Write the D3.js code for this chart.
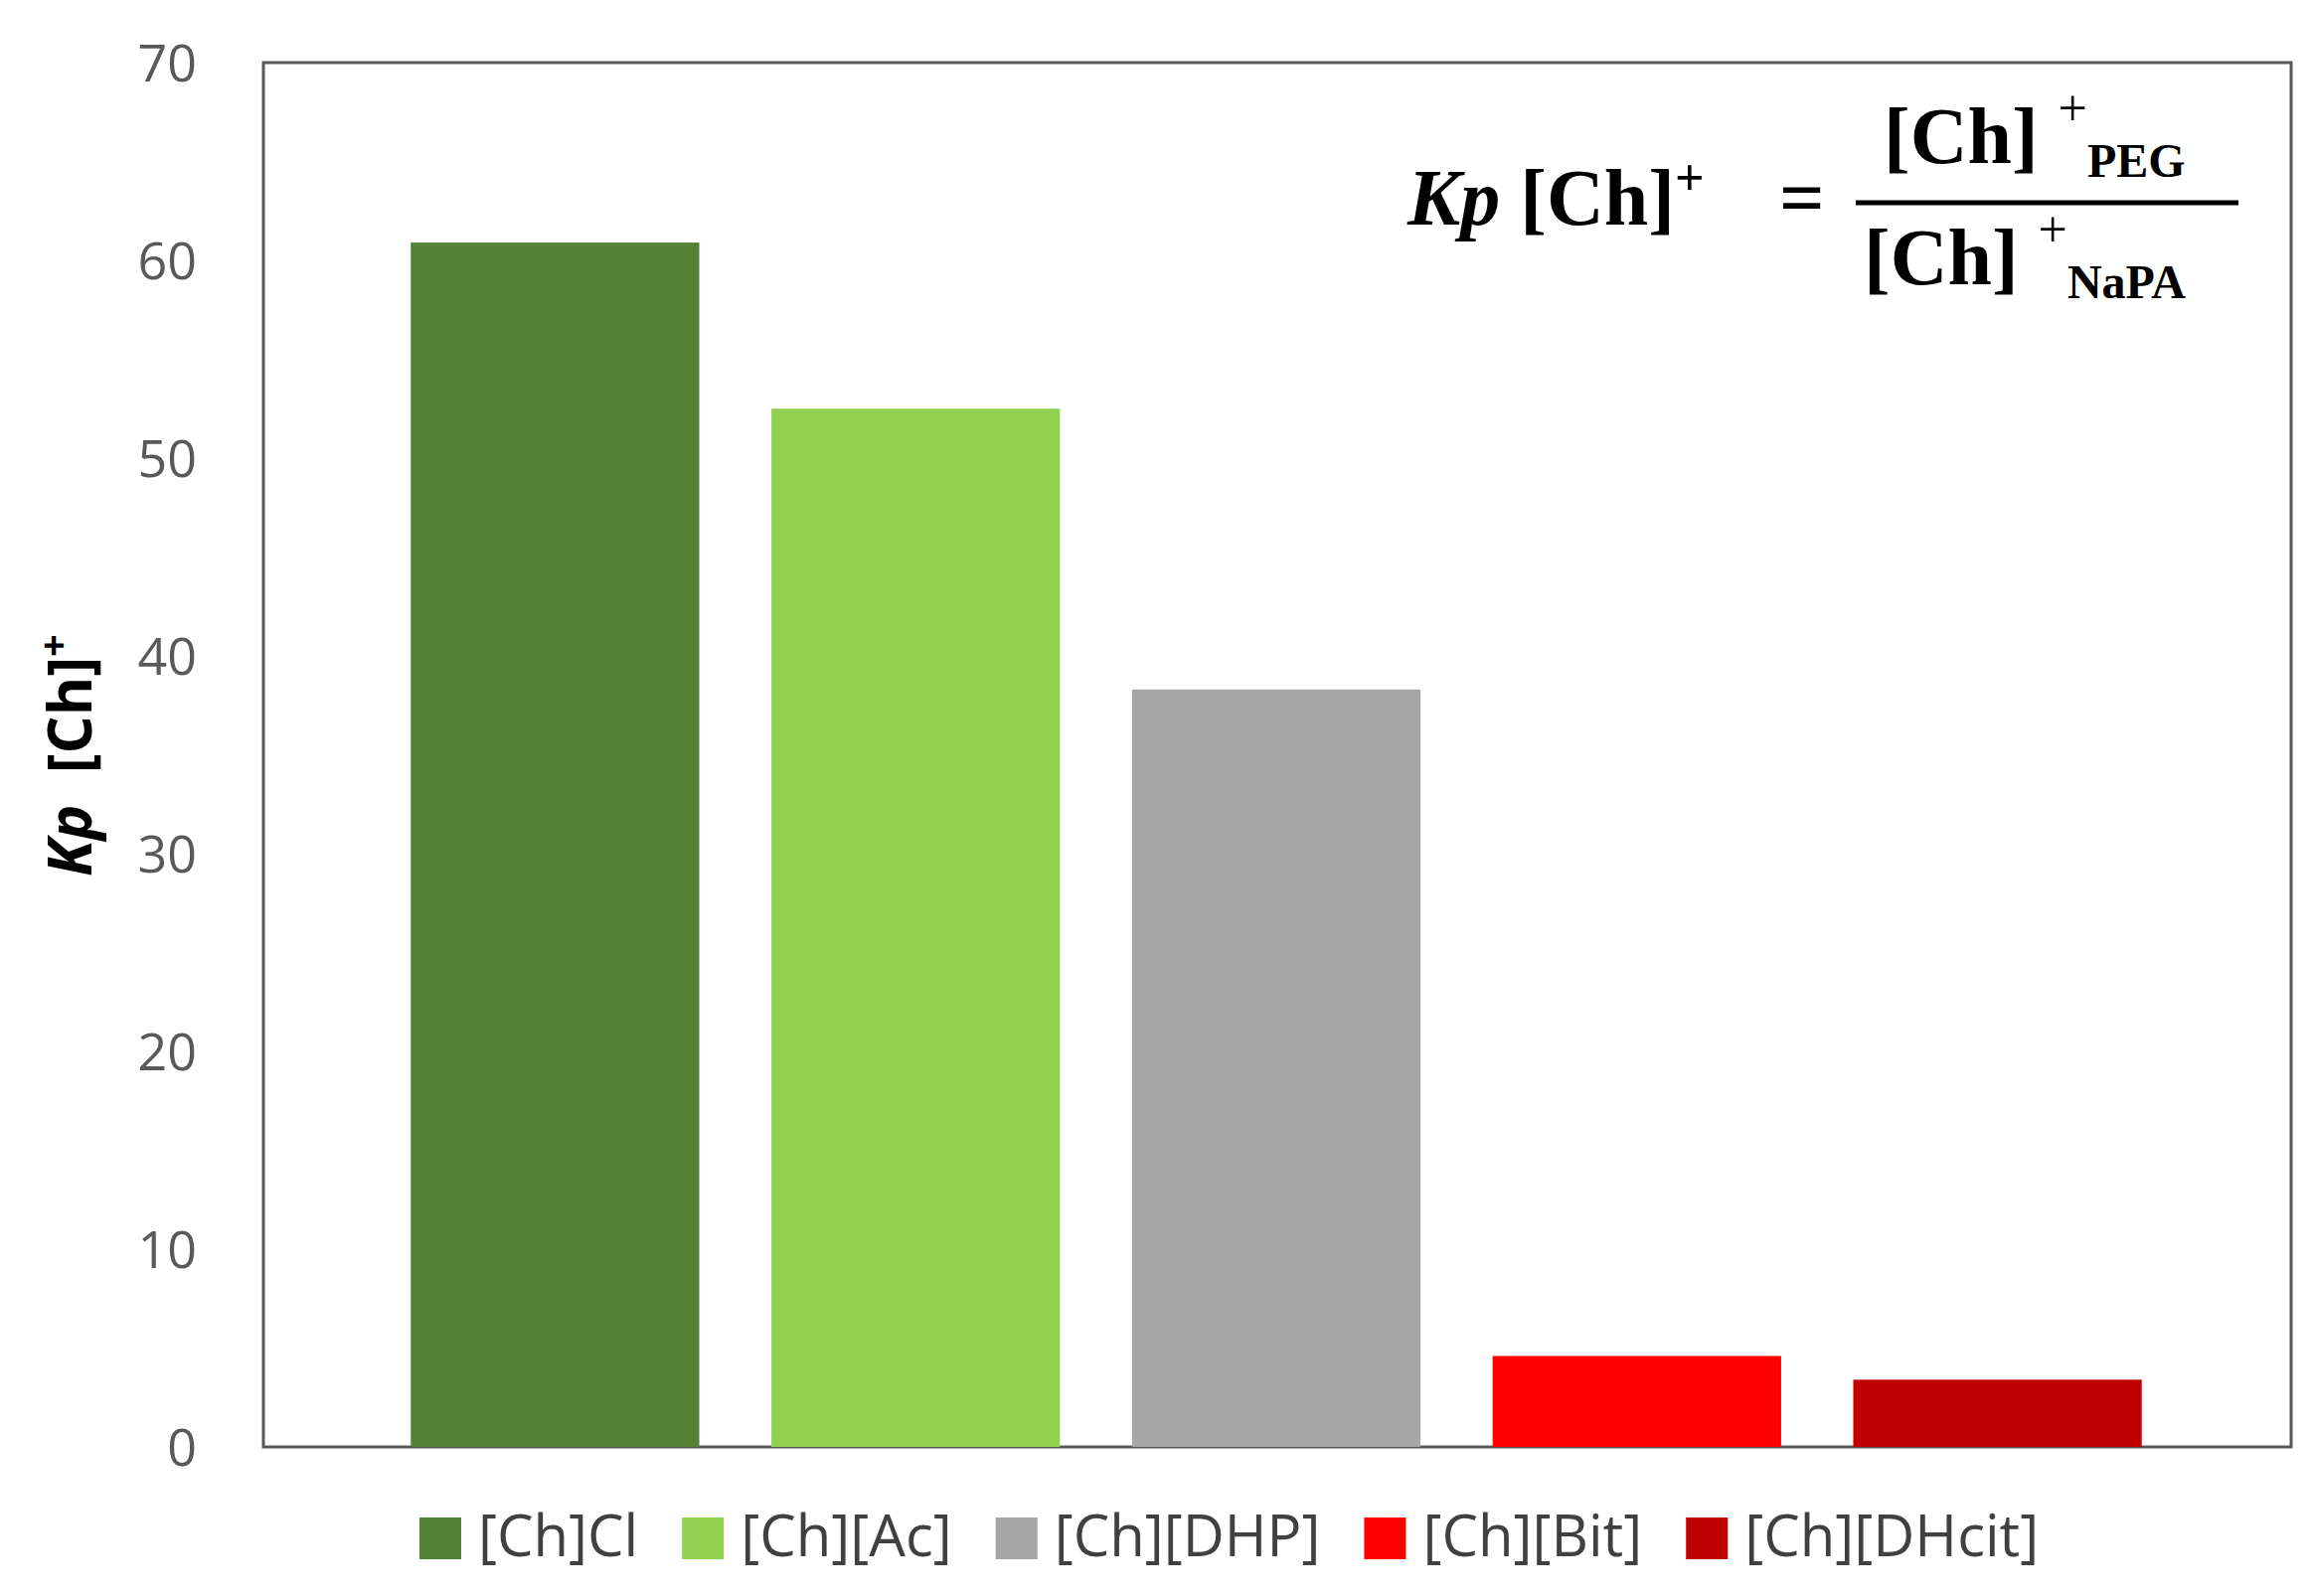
<!DOCTYPE html>
<html>
<head>
<meta charset="utf-8">
<script src="https://d3js.org/d3.v7.min.js"></script>
<style>body{margin:0;background:#fff}</style>
</head>
<body>
<script>
var categories = ["[Ch]Cl", "[Ch][Ac]", "[Ch][DHP]", "[Ch][Bit]", "[Ch][DHcit]"];
var values = [60.9, 52.5, 38.3, 4.6, 3.4];
var colors = ["#548235", "#92d050", "#a6a6a6", "#ff0000", "#c00000"];
var yTicks = [0, 10, 20, 30, 40, 50, 60, 70];

var W = 2325, H = 1606;
var plot = {left: 265, right: 2305, top: 63, bottom: 1456};

var svg = d3.select("body").append("svg").attr("width", W).attr("height", H);

var y = d3.scaleLinear().domain([0, 70]).range([plot.bottom, plot.top]);
var x = d3.scaleBand().domain(categories).range([377, 2191]).paddingInner(0.2).paddingOuter(0.1);

// frame
svg.append("rect")
  .attr("x", plot.left).attr("y", plot.top)
  .attr("width", plot.right - plot.left).attr("height", plot.bottom - plot.top)
  .attr("fill", "none").attr("stroke", "#595959").attr("stroke-width", 3);

// bars
svg.selectAll(".bar")
  .data(values)
  .join("rect")
  .attr("class", "bar")
  .attr("x", (d, i) => x(categories[i]))
  .attr("width", x.bandwidth())
  .attr("y", d => y(d))
  .attr("height", d => y(0) - y(d))
  .attr("fill", (d, i) => colors[i]);

// y axis
var yAxis = d3.axisLeft(y).tickValues(yTicks).tickSize(0).tickPadding(0);
var gy = svg.append("g").attr("transform", "translate(198,0)").call(yAxis);
gy.select(".domain").remove();
gy.selectAll("text").attr("font-family", "Open Sans, sans-serif").attr("font-size", 52).attr("fill", "#595959").attr("dy", "0.35em");

// y label
var yl = svg.append("text")
  .attr("transform", "translate(92,760) rotate(-90)")
  .attr("text-anchor", "middle")
  .attr("font-family", "Open Sans, sans-serif").attr("font-weight", "bold")
  .attr("font-size", 60).attr("fill", "#000");
yl.append("tspan").attr("font-style", "italic").text("Kp");
yl.append("tspan").text("\u00a0 [Ch]");
yl.append("tspan").attr("font-size", 40).attr("dy", -24).text("+");

// formula
var f = svg.append("g").attr("font-family", "Liberation Serif, serif").attr("font-weight", "bold").attr("fill", "#000");
var lhs = f.append("text").attr("x", 1416).attr("y", 226).attr("font-size", 80);
lhs.append("tspan").attr("font-style", "italic").text("Kp");
lhs.append("tspan").text(" [Ch]");
lhs.append("tspan").attr("font-size", 52).attr("dy", -30).text("+");
f.append("text").attr("x", 1790).attr("y", 226).attr("font-size", 80).text("=");
f.append("line").attr("x1", 1867).attr("x2", 2252).attr("y1", 204).attr("y2", 204).attr("stroke", "#000").attr("stroke-width", 5);
var num = f.append("text").attr("x", 1895).attr("y", 164).attr("font-size", 80);
num.append("tspan").text("[Ch] ");
num.append("tspan").attr("font-size", 52).attr("font-weight", "normal").attr("dy", -38).text("+");
num.append("tspan").attr("font-size", 48).attr("dy", 52).text("PEG");
var den = f.append("text").attr("x", 1875).attr("y", 286).attr("font-size", 80);
den.append("tspan").text("[Ch] ");
den.append("tspan").attr("font-size", 52).attr("font-weight", "normal").attr("dy", -38).text("+");
den.append("tspan").attr("font-size", 48).attr("dy", 52).text("NaPA");

// legend
var lx = 422;
categories.forEach(function(c, i) {
  svg.append("rect").attr("x", lx).attr("y", 1527).attr("width", 42).attr("height", 42).attr("fill", colors[i]);
  var t = svg.append("text").attr("x", lx + 59).attr("y", 1566)
    .attr("font-family", "Open Sans, sans-serif").attr("font-size", 58).attr("fill", "#404040")
    .text(c);
  lx += 59 + t.node().getComputedTextLength() + 44;
});
</script>
</body>
</html>
